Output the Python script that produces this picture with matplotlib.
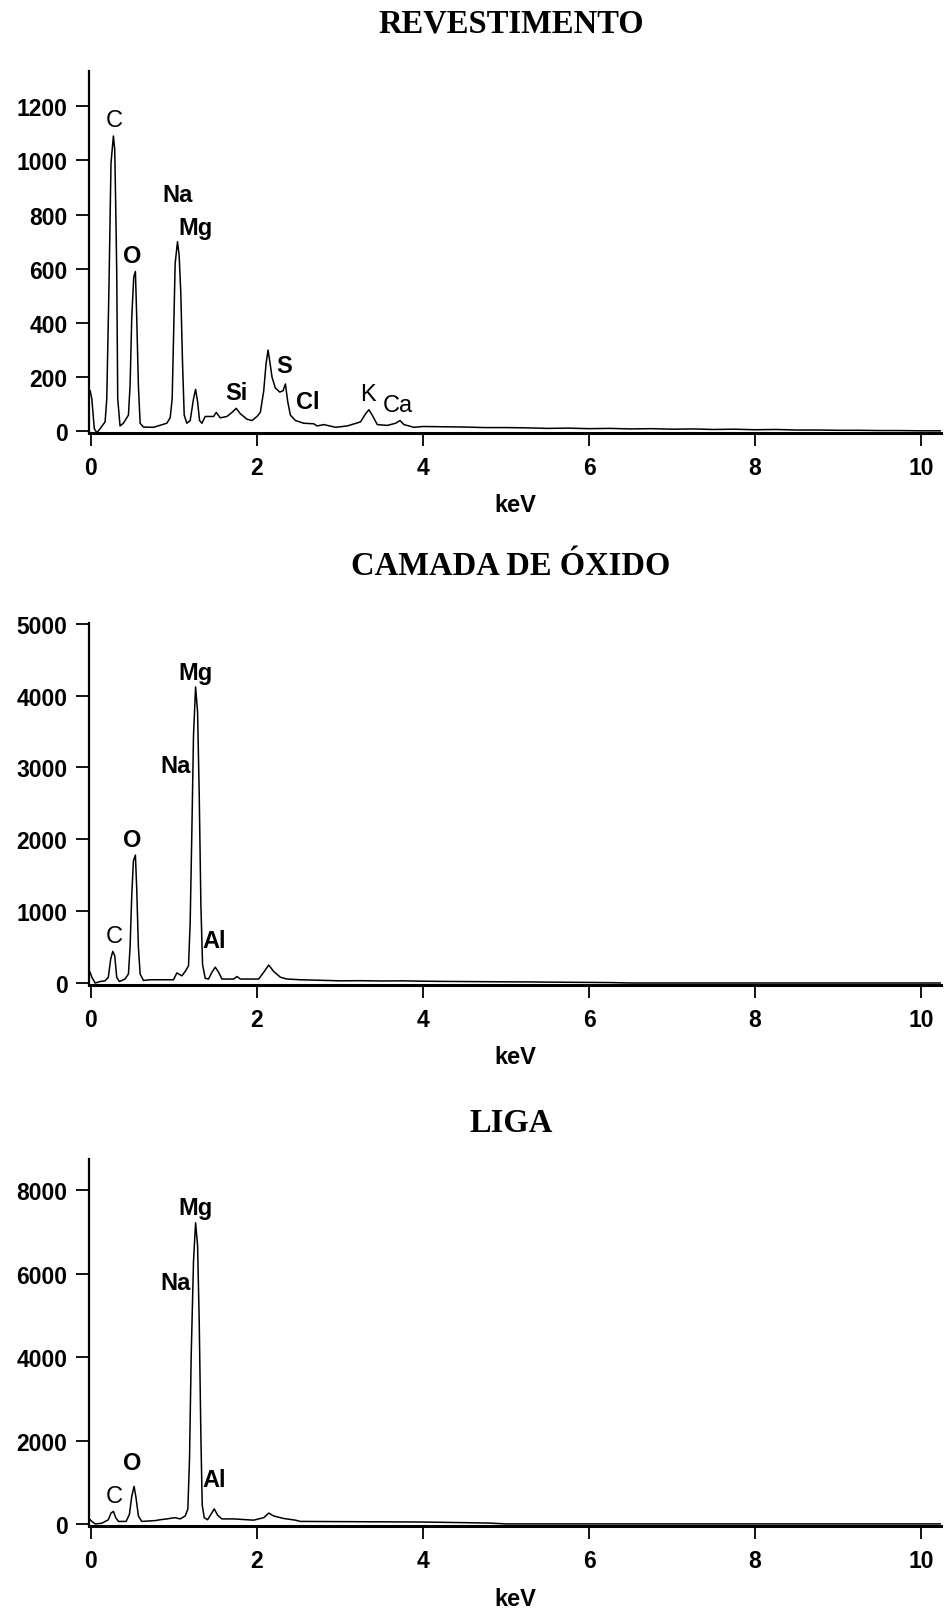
import matplotlib
matplotlib.use("Agg")
import matplotlib.pyplot as plt

# EDS spectra: energy (keV) and counts, read channel by channel
rev_kev = [-0.01, 0.01, 0.04, 0.07, 0.11, 0.17, 0.19, 0.217, 0.241, 0.27, 0.286, 0.298,
           0.31, 0.322, 0.35, 0.39, 0.451, 0.471, 0.491, 0.515, 0.535, 0.551, 0.571,
           0.592, 0.632, 0.753, 0.913, 0.954, 0.978, 0.994, 1.014, 1.042, 1.062,
           1.082, 1.103, 1.123, 1.155, 1.195, 1.235, 1.26, 1.284, 1.308, 1.336,
           1.376, 1.477, 1.509, 1.557, 1.638, 1.698, 1.75, 1.799, 1.879, 1.94, 2.0,
           2.04, 2.081, 2.109, 2.133, 2.153, 2.181, 2.221, 2.274, 2.314, 2.342,
           2.37, 2.402, 2.463, 2.563, 2.684, 2.724, 2.805, 2.946, 3.087, 3.247,
           3.308, 3.348, 3.388, 3.449, 3.569, 3.67, 3.722, 3.77, 3.891, 4.0, 4.25,
           4.5, 4.75, 5.0, 5.25, 5.5, 5.75, 6.0, 6.25, 6.5, 6.75, 7.0, 7.25, 7.5,
           7.75, 8.0, 8.25, 8.5, 8.75, 9.0, 9.25, 9.5, 9.75, 10.0, 10.25]
rev_cts = [150, 120, 10, -5, 10, 35, 120, 540, 990, 1090, 1040, 830,
           590, 120, 20, 30, 60, 170, 420, 570, 590, 420, 170,
           30, 16, 15, 30, 50, 120, 340, 620, 700, 650,
           510, 250, 60, 30, 40, 120, 155, 110, 40, 30,
           55, 55, 70, 50, 55, 70, 85, 65, 45, 40, 55,
           70, 150, 250, 300, 260, 200, 160, 145, 150, 175,
           110, 60, 40, 30, 28, 20, 25, 15, 20, 35,
           65, 80, 60, 25, 22, 30, 40, 25, 15, 18, 17,
           16, 14, 14, 13, 11, 12, 10, 11, 9, 10, 8, 9, 7,
           8, 6, 7, 5, 5, 4, 4, 3, 3, 2, 2]

oxi_kev = [-0.01, 0.01, 0.05, 0.11, 0.169, 0.209, 0.237, 0.262, 0.286, 0.31, 0.342,
           0.41, 0.451, 0.471, 0.491, 0.511, 0.535, 0.551, 0.571, 0.592, 0.632,
           0.712, 0.994, 1.034, 1.095, 1.135, 1.175, 1.195, 1.215, 1.235, 1.26,
           1.284, 1.304, 1.324, 1.344, 1.376, 1.416, 1.457, 1.497, 1.537, 1.577,
           1.718, 1.759, 1.799, 2.02, 2.081, 2.141, 2.201, 2.282, 2.362, 2.523,
           2.845, 3.0, 3.25, 3.5, 3.75, 4.0, 4.25, 4.5, 4.75, 5.0, 5.25, 5.5,
           5.75, 6.0, 6.25, 6.5, 8.0, 10.25]
oxi_cts = [150, 80, 0, 20, 30, 80, 330, 440, 380, 80, 20,
           55, 125, 500, 1220, 1700, 1780, 1310, 500, 125, 35,
           45, 45, 140, 100, 160, 240, 850, 2100, 3450, 4120,
           3770, 2610, 1080, 260, 65, 55, 150, 220, 150, 55,
           55, 90, 55, 55, 150, 250, 160, 80, 55, 45,
           35, 30, 32, 28, 30, 25, 22, 20, 18, 16, 15, 12,
           10, 8, 6, 0, 0, 0]

liga_kev = [-0.01, 0.01, 0.05, 0.129, 0.209, 0.241, 0.27, 0.298, 0.33, 0.423, 0.463,
            0.491, 0.519, 0.543, 0.571, 0.612, 0.773, 0.833, 0.913, 1.014, 1.074,
            1.135, 1.167, 1.187, 1.207, 1.235, 1.26, 1.284, 1.304, 1.324, 1.34,
            1.364, 1.404, 1.445, 1.485, 1.525, 1.577, 1.718, 1.879, 1.96, 2.081,
            2.141, 2.201, 2.322, 2.463, 2.52, 3.0, 3.5, 4.0, 4.5, 4.8, 5.0, 10.25]
liga_cts = [100, 60, 0, 15, 100, 260, 300, 150, 60, 60, 230,
            660, 900, 620, 190, 60, 80, 100, 120, 150, 120,
            190, 360, 1570, 4020, 6300, 7220, 6680, 4830, 2080, 450,
            150, 100, 230, 360, 210, 120, 120, 100, 90, 150,
            260, 190, 130, 90, 60, 55, 50, 45, 30, 20, 0, 0]

titles = ["REVESTIMENTO", "CAMADA DE ÓXIDO", "LIGA"]
x_ticks = [0, 2, 4, 6, 8, 10]
y_ticks = [[0, 200, 400, 600, 800, 1000, 1200],
           [0, 1000, 2000, 3000, 4000, 5000],
           [0, 2000, 4000, 6000, 8000]]
y_limits = [(-6, 1330), (-28, 5010), (-50, 8750)]

# element labels: (text, keV, counts, bold)
rev_peaks = [("C", 0.278, 1148, False), ("O", 0.499, 648, True),
             ("Na", 1.042, 875, True), ("Mg", 1.256, 752, True),
             ("Si", 1.75, 145, True), ("S", 2.33, 243, True),
             ("Cl", 2.61, 110, True), ("K", 3.34, 139, False),
             ("Ca", 3.70, 98, False)]
oxi_peaks = [("Mg", 1.256, 4327, True), ("Na", 1.022, 3027, True),
             ("O", 0.499, 1997, True), ("C", 0.278, 660, False),
             ("Al", 1.485, 590, True)]
liga_peaks = [("Mg", 1.256, 7585, True), ("Na", 1.022, 5780, True),
              ("O", 0.499, 1462, True), ("C", 0.278, 680, False),
              ("Al", 1.485, 1066, True)]

spectra = [(rev_kev, rev_cts, rev_peaks),
           (oxi_kev, oxi_cts, oxi_peaks),
           (liga_kev, liga_cts, liga_peaks)]

W, H = 946, 1615
fig = plt.figure(figsize=(W / 100, H / 100), dpi=100)

# axes boxes in pixels: (top, bottom)
boxes = [(72, 434), (624, 986), (1160, 1527)]
title_y = [24, 567, 1123]
left_px, right_px = 89, 941

sans = "Liberation Sans"
for i, (kev, cts, peaks) in enumerate(spectra):
    top, bot = boxes[i]
    ax = fig.add_axes([left_px / W, 1 - bot / H, (right_px - left_px) / W, (bot - top) / H])
    ax.plot(kev, cts, color="black", lw=1.1)
    ax.set_xlim(-0.024, 10.24)
    ax.set_ylim(*y_limits[i])

    ax.spines["right"].set_color("none")
    ax.spines["top"].set_color("none")
    ax.spines["left"].set_linewidth(1.6)
    ax.spines["bottom"].set_linewidth(2.2)
    ax.xaxis.set_ticks_position("bottom")
    ax.yaxis.set_ticks_position("left")
    ax.set_xticks(x_ticks)
    ax.set_yticks(y_ticks[i])
    ax.tick_params(direction="out", length=9.5, width=1.3, colors="black")
    ax.tick_params(axis="y", pad=6)
    ax.tick_params(axis="x", pad=7)
    for lab in ax.get_xticklabels() + ax.get_yticklabels():
        lab.set_fontfamily(sans)
        lab.set_fontweight("bold")
        lab.set_fontsize(16.5)

    ax.set_xlabel("keV", fontfamily=sans, fontweight="bold", fontsize=17)
    ax.xaxis.set_label_coords(0.5, -0.165)

    for name, x, y, bold in peaks:
        ax.text(x, y, name, ha="center", va="center", fontfamily=sans,
                fontweight="bold" if bold else "normal", fontsize=17)

    fig.text(0.54, 1 - title_y[i] / H, titles[i], ha="center", va="center",
             fontfamily="Liberation Serif", fontweight="bold", fontsize=23.5)

fig.savefig("out.png", dpi=100)
